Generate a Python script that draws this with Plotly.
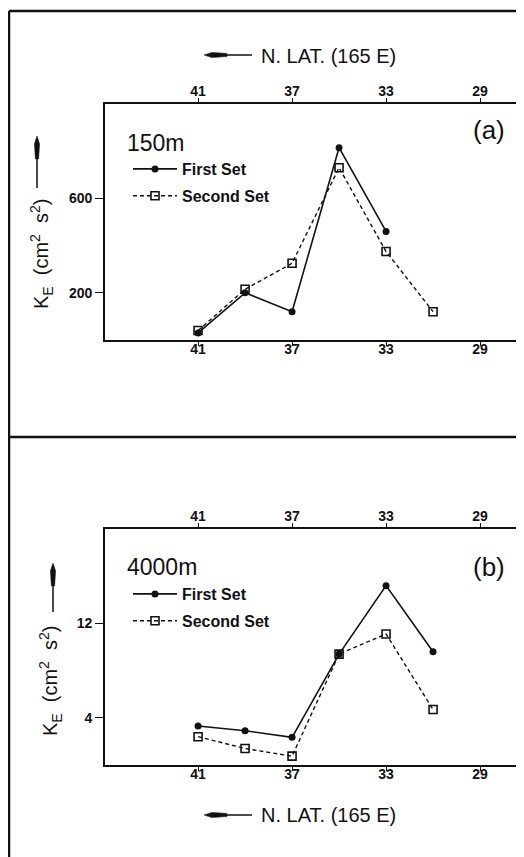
import plotly.graph_objects as go

# ---------------- data ----------------
lat_a_first = [41, 39, 37, 35, 33]
ke_a_first = [30, 200, 120, 815, 460]
lat_a_second = [41, 39, 37, 35, 33, 31]
ke_a_second = [40, 215, 325, 730, 375, 120]

lat_b = [41, 39, 37, 35, 33, 31]
ke_b_first = [3.3, 2.9, 2.35, 9.4, 15.2, 9.6]
ke_b_second = [2.4, 1.4, 0.75, 9.4, 11.1, 4.7]

lat_ticks = [41, 37, 33, 29]
ke_a_ticks = [200, 600]
ke_b_ticks = [4, 12]

series_names = ["First Set", "Second Set"]
depth_labels = ["150m", "4000m"]
panel_labels = ["(a)", "(b)"]
x_title = "N. LAT. (165 E)"
y_title = "K<sub>E</sub>&nbsp;&nbsp;(cm<sup>2</sup>&nbsp;&nbsp;s<sup>2</sup>)"

# ---------------- geometry helpers ----------------
# page body has an 8px margin; work in screen coordinates of the reference
OFF = 8
W, H = 524 - OFF, 857 - OFF
def px(x):
    return (x - OFF) / W
def py(y):
    return 1 - (y - OFF) / H

FONT = "Liberation Sans, Arial, sans-serif"
BLACK = "#111111"

fig = go.Figure()

first_style = dict(mode="lines+markers", line=dict(color=BLACK, width=1.6),
                   marker=dict(symbol="circle", size=7, color=BLACK))
second_style = dict(mode="lines+markers", line=dict(color=BLACK, width=1.4, dash="4px,3px"),
                    marker=dict(symbol="square-open", size=8, color=BLACK, line=dict(width=1.6)))

fig.add_trace(go.Scatter(x=lat_a_first, y=ke_a_first, name=series_names[0],
                         xaxis="x", yaxis="y", legend="legend", legendgroup="a1", **first_style))
fig.add_trace(go.Scatter(x=lat_a_second, y=ke_a_second, name=series_names[1],
                         xaxis="x2", yaxis="y", legend="legend", legendgroup="a2", **second_style))
fig.add_trace(go.Scatter(x=lat_b, y=ke_b_first, name=series_names[0],
                         xaxis="x3", yaxis="y2", legend="legend2", legendgroup="b1", **first_style))
fig.add_trace(go.Scatter(x=lat_b, y=ke_b_second, name=series_names[1],
                         xaxis="x4", yaxis="y2", legend="legend2", legendgroup="b2", **second_style))

xr = [44.96, 27.13]
tickfont = dict(family=FONT, size=14, color=BLACK, weight="bold")
xcommon = dict(range=xr, tickvals=lat_ticks, ticks="outside", ticklen=4, tickwidth=1.4,
               tickcolor=BLACK, showline=True, linecolor=BLACK, linewidth=1.6,
               showgrid=False, zeroline=False, tickfont=tickfont, automargin=False,
               domain=[px(105), 1], fixedrange=True)
xbottom = dict(anchor=None, side="bottom", ticklabelstandoff=-9)
xtop = dict(side="top", ticklabelstandoff=-3)
ycommon = dict(ticks="outside", ticklen=8, tickwidth=1.4, tickcolor=BLACK,
               showline=True, linecolor=BLACK, linewidth=1.6, showgrid=False,
               zeroline=False, tickfont=tickfont, automargin=False, fixedrange=True)

legend_font = dict(family=FONT, size=16, color=BLACK, weight="bold")
fig.update_layout(
    width=W, height=H,
    margin=dict(l=0, r=0, t=0, b=0),
    paper_bgcolor="white", plot_bgcolor="rgba(0,0,0,0)",
    font=dict(family=FONT, color=BLACK),
    xaxis=dict(anchor="y", side="bottom", ticklabelstandoff=-9, **xcommon),
    xaxis2=dict(anchor="y", side="top", overlaying="x", ticklabelstandoff=-3, **xcommon),
    xaxis3=dict(anchor="y2", side="bottom", ticklabelstandoff=-9, **xcommon),
    xaxis4=dict(anchor="y2", side="top", overlaying="x3", ticklabelstandoff=-3, **xcommon),
    yaxis=dict(domain=[py(340), py(104)], range=[0, 1000], tickvals=ke_a_ticks, anchor="x", **ycommon),
    yaxis2=dict(domain=[py(765), py(529)], range=[0, 20], tickvals=ke_b_ticks, anchor="x3", **ycommon),
    legend=dict(x=px(128), y=py(152), xanchor="left", yanchor="top", bgcolor="rgba(0,0,0,0)",
                font=legend_font, traceorder="grouped", tracegroupgap=3, itemwidth=44),
    legend2=dict(x=px(128), y=py(577), xanchor="left", yanchor="top", bgcolor="rgba(0,0,0,0)",
                 font=legend_font, traceorder="grouped", tracegroupgap=3, itemwidth=44),
    showlegend=True,
)

annotations = []
for lbl, yc in zip(depth_labels, [143, 567]):
    annotations.append(dict(text=lbl, x=px(125), y=py(yc), xref="paper", yref="paper",
                            xanchor="left", yanchor="middle", showarrow=False,
                            font=dict(family=FONT, size=23, color=BLACK)))
for lbl, yc in zip(panel_labels, [130, 567]):
    annotations.append(dict(text=lbl, x=px(489), y=py(yc), xref="paper", yref="paper",
                            xanchor="center", yanchor="middle", showarrow=False,
                            font=dict(family=FONT, size=26, color=BLACK)))
for yc in [56, 815]:
    annotations.append(dict(text=x_title, x=px(259), y=py(yc), xref="paper", yref="paper",
                            xanchor="left", yanchor="middle", showarrow=False,
                            font=dict(family=FONT, size=20, color=BLACK)))
for xc, yc in [(41, 254), (50, 681)]:
    annotations.append(dict(text=y_title, x=px(xc), y=py(yc), xref="paper", yref="paper",
                            xanchor="center", yanchor="middle", showarrow=False, textangle=-90,
                            font=dict(family=FONT, size=20, color=BLACK)))
fig.update_layout(annotations=annotations)

shapes = []
def line(x0, y0, x1, y1, w=2.5):
    shapes.append(dict(type="line", xref="paper", yref="paper", x0=px(x0), y0=py(y0),
                       x1=px(x1), y1=py(y1), line=dict(color=BLACK, width=w)))
# outer frame
line(9, 11, 9, 857)
line(9, 11, 524, 11)
line(9, 437, 524, 437)

def harrow(x0, x1, y):
    line(x0 + 4, y, x1, y, 1.5)
    path = (f"M{px(x0)},{py(y)} L{px(x0+8)},{py(y-2.6)} L{px(x0+23)},{py(y-1.6)} "
            f"L{px(x0+23)},{py(y+1.6)} L{px(x0+8)},{py(y+2.6)} Z")
    shapes.append(dict(type="path", xref="paper", yref="paper", path=path,
                       fillcolor=BLACK, line=dict(color=BLACK, width=0.5)))

def varrow(x, y0, y1):
    line(x, y0 + 4, x, y1, 1.5)
    path = (f"M{px(x)},{py(y0)} L{px(x-2.6)},{py(y0+8)} L{px(x-1.6)},{py(y0+23)} "
            f"L{px(x+1.6)},{py(y0+23)} L{px(x+2.6)},{py(y0+8)} Z")
    shapes.append(dict(type="path", xref="paper", yref="paper", path=path,
                       fillcolor=BLACK, line=dict(color=BLACK, width=0.5)))

harrow(204, 252, 55)
harrow(204, 252, 815)
varrow(37, 136, 188)
varrow(53, 563, 612)

fig.update_layout(shapes=shapes)

fig.write_html("out.html")
